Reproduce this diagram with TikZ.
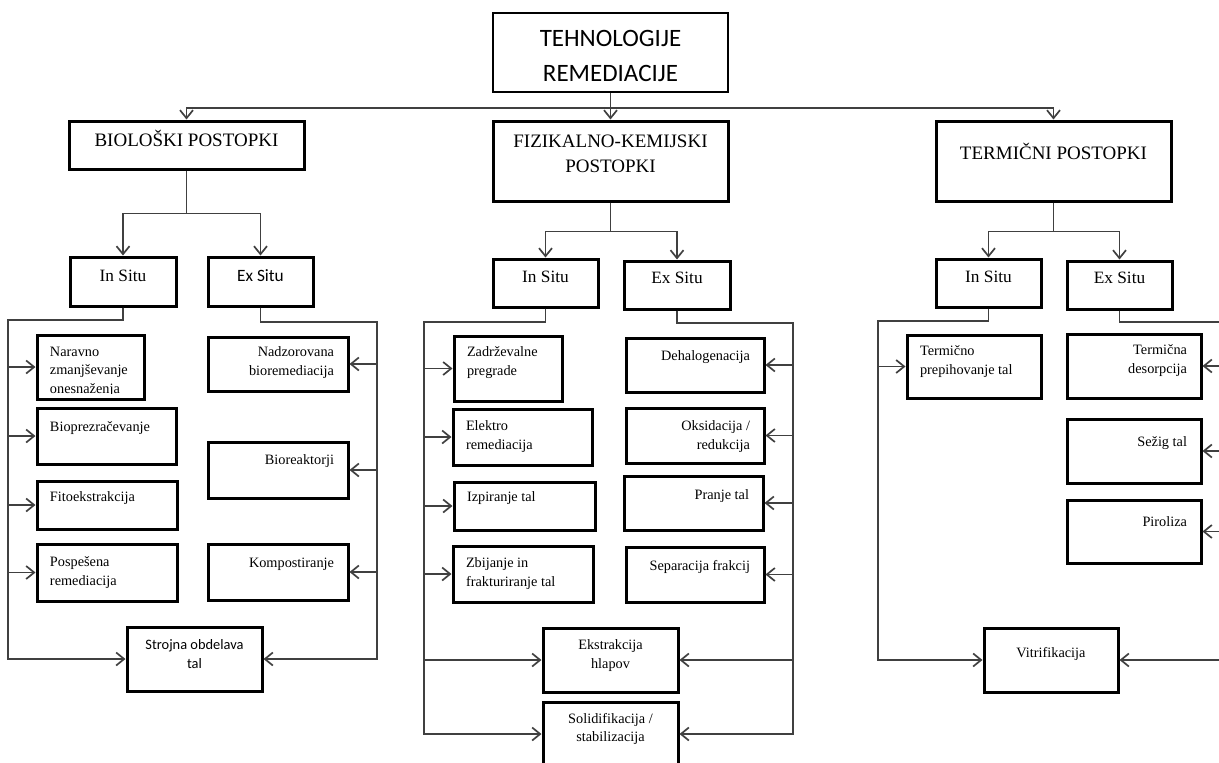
\documentclass[tikz,border=0pt]{standalone}
\usepackage{fontspec}
\setmainfont{Liberation Serif}
\newfontfamily\calibfont{Carlito}
\usetikzlibrary{arrows.meta}

% box text: width, height, top gap, setup, text
\newcommand{\cell}[5]{\parbox[c][#2pt][t]{#1pt}{#4\vspace*{#3pt}#5}}
\newcommand{\toL}{\raggedright\leftskip=13pt\relax}
\newcommand{\toR}{\raggedleft\rightskip=14pt\relax}
\newcommand{\toC}{\centering}
\newcommand{\leaffont}{\fontsize{14.3}{18.5}\selectfont}
\newcommand{\sitefont}{\fontsize{17.3}{21}\selectfont}
\newcommand{\groupfont}{\fontsize{19}{25}\selectfont}

\begin{document}
\begin{tikzpicture}[x=1pt,y=-1pt,
    >={Straight Barb[length=8pt,width=13pt]},
    groupbox/.style={
% Shape:
rectangle,
% Size (set by the text box):
inner sep=0pt,
% Border:
draw, line width=3pt,
},
    leafbox/.style={
% Shape:
rectangle,
% Size (set by the text box):
inner sep=0pt,
% Border:
draw, line width=3pt,
},
    link/.style={draw=black!75, line width=1.7pt},
]
  \useasboundingbox (0,0) rectangle (1219,763);

  % top levels
  \node[groupbox, line width=2.5pt] (ttl) at (610.5,52.5) {\cell{235}{79}{17}{\calibfont\fontsize{25}{35}\selectfont\toC}{TEHNOLOGIJE\\REMEDIACIJE}};
  \node[groupbox] (bio)  at (186.5,145)  {\cell{235}{48}{9}{\groupfont\toC}{BIOLOŠKI POSTOPKI}};
  \node[groupbox] (fiz)  at (610.5,161)  {\cell{235}{80}{14}{\groupfont\toC}{FIZIKALNO-KEMIJSKI\\POSTOPKI}};
  \node[groupbox] (term) at (1053.5,161) {\cell{235}{80}{22}{\groupfont\toC}{TERMIČNI POSTOPKI}};

  \node[groupbox] (bin) at (123,281.5)   {\cell{106}{49}{13}{\sitefont\toC}{In Situ}};
  \node[groupbox] (bex) at (260.5,281.5) {\cell{105}{49}{13}{\calibfont\sitefont\toC}{Ex Situ}};
  \node[groupbox] (fin) at (545.5,283)   {\cell{105}{48}{12}{\sitefont\toC}{In Situ}};
  \node[groupbox] (fex) at (677,285)     {\cell{106}{48}{11}{\sitefont\toC}{Ex Situ}};
  \node[groupbox] (tin) at (988.5,283)   {\cell{105}{48}{12}{\sitefont\toC}{In Situ}};
  \node[groupbox] (tex) at (1119.5,285)  {\cell{105}{48}{11}{\sitefont\toC}{Ex Situ}};

  % bioloski
  \node[leafbox, minimum width=107pt, minimum height=64pt,
    path picture={\clip (path picture bounding box.north west) rectangle ([yshift=6pt]path picture bounding box.south east);
      \node[inner sep=0pt] at (path picture bounding box.center) {\cell{107}{64}{12}{\leaffont\toL}{Naravno\\zmanjševanje\\onesnaženja}};}] (nar) at (90.5,367) {};
  \node[leafbox] (bpz) at (106.5,436) {\cell{139}{56}{14}{\leaffont\toL}{Bioprezračevanje}};
  \node[leafbox] (fit) at (107,505)   {\cell{140}{48}{11}{\leaffont\toL}{Fitoekstrakcija}};
  \node[leafbox] (pos) at (107,572.5) {\cell{140}{57}{13}{\leaffont\toL}{Pospešena\\remediacija}};
  \node[leafbox] (nad) at (278,364)   {\cell{140}{54}{10}{\leaffont\toR}{Nadzorovana\\bioremediacija}};
  \node[leafbox] (bre) at (278,470)   {\cell{140}{56}{13}{\leaffont\toR}{Bioreaktorji}};
  \node[leafbox] (kom) at (278,572)   {\cell{140}{56}{14}{\leaffont\toR}{Kompostiranje}};
  \node[leafbox] (str) at (194.5,659) {\cell{135}{64}{12}{\calibfont\fontsize{14.4}{19}\selectfont\toC}{Strojna obdelava\\tal}};

  % fizikalno-kemijski
  \node[leafbox] (zad) at (508,368.5) {\cell{108}{65}{11}{\leaffont\toL}{Zadrževalne\\pregrade}};
  \node[leafbox] (ele) at (522.5,437) {\cell{139}{56}{12}{\leaffont\toL}{Elektro\\remediacija}};
  \node[leafbox] (izp) at (524.5,506) {\cell{141}{48}{10}{\leaffont\toL}{Izpiranje tal}};
  \node[leafbox] (zbi) at (523,574)   {\cell{140}{56}{12}{\leaffont\toL}{Zbijanje in\\frakturiranje tal}};
  \node[leafbox] (deh) at (695,365)   {\cell{138}{54}{13}{\leaffont\toR}{Dehalogenacija}};
  \node[leafbox] (oks) at (695,435.5) {\cell{138}{55}{13}{\leaffont\toR}{Oksidacija /\\redukcija}};
  \node[leafbox] (pra) at (693.5,503) {\cell{139}{54}{14}{\leaffont\toR}{Pranje tal}};
  \node[leafbox] (sep) at (695,574.5) {\cell{138}{55}{13}{\leaffont\toR}{Separacija frakcij}};
  \node[leafbox] (eks) at (610.5,660) {\cell{135}{64}{12}{\leaffont\toC}{Ekstrakcija\\hlapov}};
  \node[leafbox] (sol) at (610.5,734) {\cell{135}{64}{11}{\leaffont\toC}{Solidifikacija /\\stabilizacija}};

  % termicni
  \node[leafbox] (tpr) at (974,366.5)  {\cell{134}{63}{11}{\leaffont\toL}{Termično\\prepihovanje tal}};
  \node[leafbox] (tde) at (1134,366)   {\cell{134}{64}{11}{\leaffont\toR}{Termična\\desorpcija}};
  \node[leafbox] (sez) at (1134,451)   {\cell{134}{64}{18}{\leaffont\toR}{Sežig tal}};
  \node[leafbox] (pir) at (1134,531.5) {\cell{134}{63}{17}{\leaffont\toR}{Piroliza}};
  \node[leafbox] (vit) at (1051,660)   {\cell{134}{64}{19}{\leaffont\toC}{Vitrifikacija}};

  % branches
  \draw[link,->] (ttl.south) -- (fiz.north);
  \draw[link,->] (ttl.south) -- ++(0,15) -| (bio.north);
  \draw[link,->] (ttl.south) -- ++(0,15) -| (term.north);
  \draw[link,->] (bio.south) -- ++(0,43) -| (bin.north);
  \draw[link,->] (bio.south) -- ++(0,43) -| (bex.north);
  \draw[link,->] (fiz.south) -- ++(0,29) -| (fin.north);
  \draw[link,->] (fiz.south) -- ++(0,29) -| (fex.north);
  \draw[link,->] (term.south) -- ++(0,29) -| (tin.north);
  \draw[link,->] (term.south) -- ++(0,29) -| (tex.north);

  % rails
  \coordinate (binrail) at (8,320);
  \coordinate (bexrail) at (377,322);
  \coordinate (finrail) at (424,322);
  \coordinate (fexrail) at (793,323);
  \coordinate (tinrail) at (878,321);
  \coordinate (texrail) at (1226,322);

  \foreach \leaf in {nar,bpz,fit,pos,str}
    \draw[link,->] (bin.south) |- (binrail) |- (\leaf.west);
  \foreach \leaf in {nad,bre,kom,str}
    \draw[link,->] (bex.south) |- (bexrail) |- (\leaf.east);
  \foreach \leaf in {zad,ele,izp,zbi,eks,sol}
    \draw[link,->] (fin.south) |- (finrail) |- (\leaf.west);
  \foreach \leaf in {deh,oks,pra,sep,eks,sol}
    \draw[link,->] (fex.south) |- (fexrail) |- (\leaf.east);
  \foreach \leaf in {tpr,vit}
    \draw[link,->] (tin.south) |- (tinrail) |- (\leaf.west);
  \foreach \leaf in {tde,sez,pir,vit}
    \draw[link,->] (tex.south) |- (texrail) |- (\leaf.east);

\end{tikzpicture}
\end{document}
